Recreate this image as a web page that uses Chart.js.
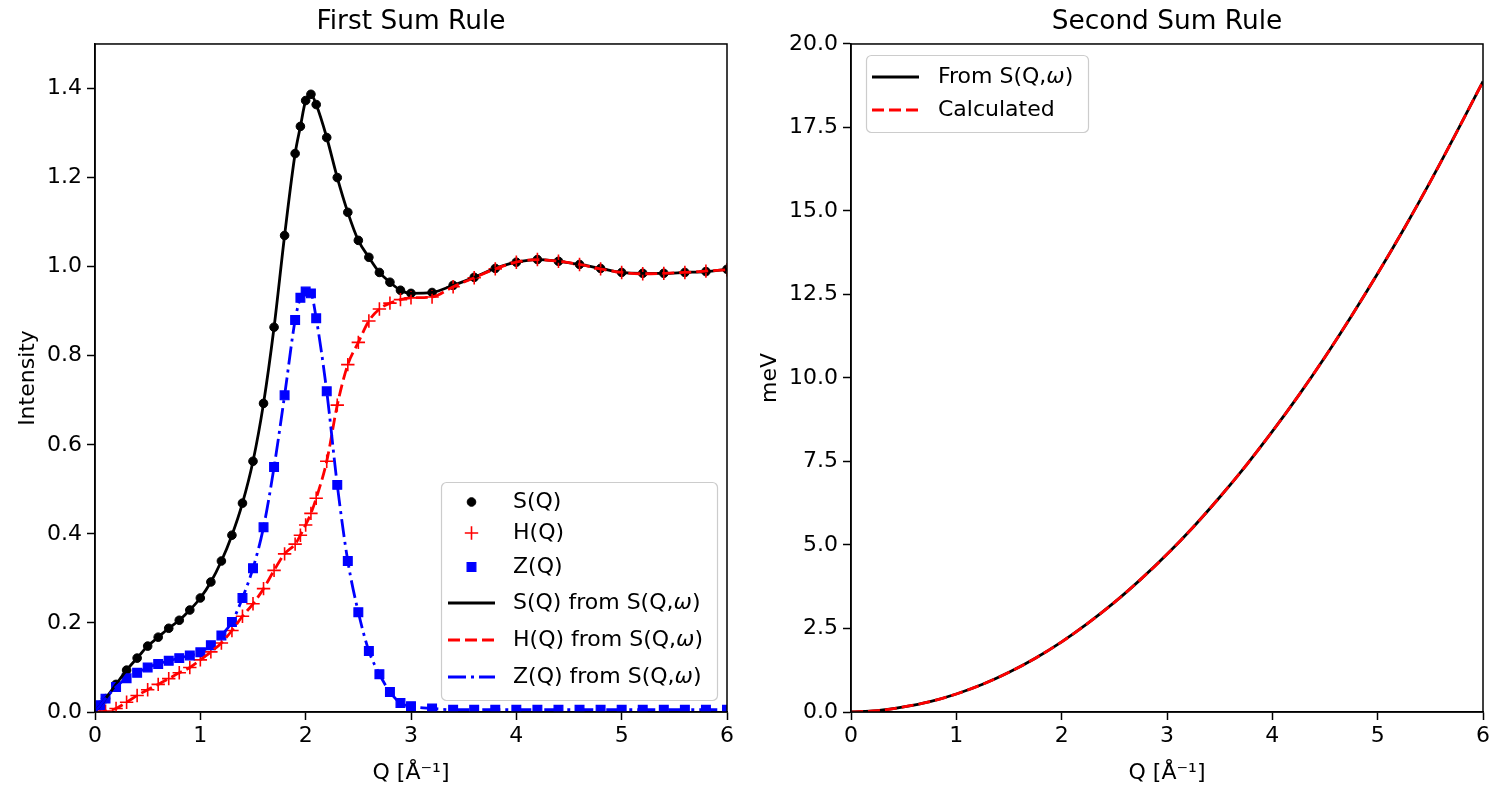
<!DOCTYPE html>
<html><head><meta charset="utf-8">
<script src="https://cdn.jsdelivr.net/npm/chart.js@4.4.1/dist/chart.umd.min.js"></script>
<style>
html,body{margin:0;padding:0;background:#fff;width:1494px;height:792px;overflow:hidden;}
#c1{position:absolute;left:0;top:0;width:747px;height:792px;}
#c2{position:absolute;left:756px;top:0;width:738px;height:792px;}
</style></head><body>
<canvas id="c1" width="747" height="792"></canvas>
<canvas id="c2" width="738" height="792"></canvas>
<script>
// ---- First sum rule data ----
const qValues = [0, 0.05, 0.1, 0.2, 0.3, 0.4, 0.5, 0.6, 0.7, 0.8, 0.9, 1.0, 1.1, 1.2, 1.3, 1.4, 1.5, 1.6, 1.7, 1.8, 1.9,
  1.95, 2.0, 2.05, 2.1, 2.2, 2.3, 2.4, 2.5, 2.6, 2.7, 2.8, 2.9, 3.0,
  3.2, 3.4, 3.6, 3.8, 4.0, 4.2, 4.4, 4.6, 4.8, 5.0, 5.2, 5.4, 5.6, 5.8, 6.0];
const sValues = [0, 0.015, 0.03, 0.062, 0.094, 0.121, 0.148, 0.168, 0.188, 0.206, 0.229, 0.256, 0.292, 0.339, 0.397, 0.469, 0.563, 0.693, 0.864, 1.070, 1.254,
  1.315, 1.373, 1.387, 1.364, 1.290, 1.200, 1.122, 1.059, 1.021, 0.987, 0.965, 0.947, 0.940,
  0.942, 0.958, 0.976, 0.996, 1.010, 1.016, 1.012, 1.005, 0.996, 0.987, 0.985, 0.985, 0.987, 0.989, 0.994];
const hValues = [0, 0, 0.002, 0.008, 0.022, 0.037, 0.050, 0.062, 0.075, 0.088, 0.100, 0.117, 0.135, 0.155, 0.183, 0.215, 0.243, 0.277, 0.318, 0.355, 0.377,
  0.397, 0.420, 0.446, 0.480, 0.563, 0.689, 0.780, 0.830, 0.878, 0.905, 0.918, 0.926, 0.930,
  0.932, 0.955, 0.975, 0.995, 1.010, 1.016, 1.012, 1.005, 0.995, 0.987, 0.984, 0.985, 0.987, 0.990, 0.993];
const zValues = [0, 0.015, 0.03, 0.056, 0.076, 0.088, 0.100, 0.108, 0.115, 0.121, 0.127, 0.134, 0.150, 0.172, 0.202, 0.256, 0.323, 0.415, 0.550, 0.711, 0.880,
  0.930, 0.944, 0.940, 0.884, 0.720, 0.510, 0.339, 0.224, 0.137, 0.085, 0.045, 0.020, 0.013,
  0.008, 0.005, 0.005, 0.005, 0.005, 0.005, 0.005, 0.005, 0.005, 0.005, 0.005, 0.005, 0.005, 0.005, 0.005];

// ---- Second sum rule data ----
const qSecond = [0, 0.25, 0.5, 0.75, 1.0, 1.25, 1.5, 1.75, 2.0, 2.25, 2.5, 2.75, 3.0, 3.25, 3.5, 3.75, 4.0, 4.25, 4.5, 4.75, 5.0, 5.25, 5.5, 5.75, 6.0];
const secondFromSQW = [0, 0.04, 0.15, 0.31, 0.54, 0.83, 1.19, 1.61, 2.10, 2.66, 3.28, 3.97, 4.72, 5.54, 6.43, 7.38, 8.40, 9.48, 10.63, 11.85, 13.13, 14.47, 15.88, 17.36, 18.88];
const secondCalculated = [0, 0.04, 0.15, 0.31, 0.54, 0.83, 1.19, 1.61, 2.10, 2.66, 3.28, 3.97, 4.72, 5.54, 6.43, 7.38, 8.40, 9.48, 10.63, 11.85, 13.13, 14.47, 15.88, 17.36, 18.88];

const FONT = 'DejaVu Sans';
const FS = 22;       // tick / label / legend font size
const TFS = 26.4;    // title font size
Chart.defaults.font.family = FONT;
Chart.defaults.font.size = FS;
Chart.defaults.color = '#000';

function pts(xs, ys, from) { return xs.map((x, i) => ({x, y: ys[i]})).slice(from || 0); }

const frame = {
  id: 'frame',
  afterDatasetsDraw(chart) {
    const {ctx, chartArea: a} = chart;
    ctx.save(); ctx.strokeStyle = '#000'; ctx.lineWidth = 1.5;
    ctx.strokeRect(a.left, a.top, a.right - a.left, a.bottom - a.top);
    ctx.restore();
  }
};

function drawParts(ctx, parts, x, y) {
  ctx.textBaseline = 'middle'; ctx.textAlign = 'left'; ctx.fillStyle = '#000';
  for (const [t, st] of parts) {
    ctx.font = (st === 'i' ? 'italic ' : '') + FS + 'px "' + FONT + '"';
    ctx.fillText(t, x, y);
    x += ctx.measureText(t).width;
  }
}

function drawMarker(ctx, ds, x, y) {
  ctx.save();
  ctx.fillStyle = ds.pointBackgroundColor; ctx.strokeStyle = ds.pointBorderColor; ctx.lineWidth = ds.pointBorderWidth;
  const r = ds.pointRadius;
  ctx.beginPath();
  if (ds.pointStyle === 'circle') { ctx.arc(x, y, r, 0, Math.PI * 2); ctx.fill(); ctx.stroke(); }
  else if (ds.pointStyle === 'rect') { const s = r * Math.SQRT1_2; ctx.rect(x - s, y - s, 2 * s, 2 * s); ctx.fill(); ctx.stroke(); }
  else { ctx.moveTo(x - r, y); ctx.lineTo(x + r, y); ctx.moveTo(x, y - r); ctx.lineTo(x, y + r); ctx.stroke(); }
  ctx.restore();
}

function makeLegend(id, boxFn, entries) {
  return {
    id,
    afterDraw(chart) {
      const ctx = chart.ctx; const b = boxFn(chart.chartArea);
      ctx.save();
      ctx.beginPath();
      if (ctx.roundRect) ctx.roundRect(b.x + 0.5, b.y + 0.5, b.w, b.h, 5); else ctx.rect(b.x + 0.5, b.y + 0.5, b.w, b.h);
      ctx.fillStyle = 'rgba(255,255,255,0.8)'; ctx.fill();
      ctx.strokeStyle = '#cccccc'; ctx.lineWidth = 1.2; ctx.stroke();
      for (const e of entries) {
        const ds = chart.data.datasets[e.ds];
        const y = b.y + e.dy;
        if (e.kind === 'marker') {
          drawMarker(ctx, ds, b.x + b.hx0 + (b.hx1 - b.hx0) / 2, y);
        } else {
          ctx.save(); ctx.strokeStyle = ds.borderColor; ctx.lineWidth = ds.borderWidth;
          ctx.setLineDash(ds.borderDash || []);
          ctx.beginPath(); ctx.moveTo(b.x + b.hx0, y); ctx.lineTo(b.x + b.hx1, y); ctx.stroke();
          ctx.restore();
        }
        drawParts(ctx, e.parts, b.x + b.tx, y);
      }
      ctx.restore();
    }
  };
}

function yAxis(title, titlePad, min, max, step) {
  return {
    type: 'linear', min, max,
    afterFit(s) { s.width = 95; },
    ticks: { stepSize: step, includeBounds: false, padding: 5, color: '#000', font: {size: FS}, callback: v => Number(v).toFixed(1) },
    grid: { display: true, drawOnChartArea: false, drawTicks: true, tickLength: 8, tickWidth: 1.5, tickColor: '#000', color: '#000' },
    border: { display: true, color: '#000', width: 1.5 },
    title: { display: true, text: title, color: '#000', font: {size: FS}, padding: {top: titlePad, bottom: 0} }
  };
}
function xAxis() {
  return {
    type: 'linear', min: 0, max: 6,
    afterFit(s) { s.height = 80; },
    ticks: { stepSize: 1, includeBounds: false, padding: 3, color: '#000', font: {size: FS}, maxRotation: 0, callback: v => String(v) },
    grid: { display: true, drawOnChartArea: false, drawTicks: true, tickLength: 8, tickWidth: 1.5, tickColor: '#000', color: '#000' },
    border: { display: true, color: '#000', width: 1.5 },
    title: { display: true, text: 'Q [Å⁻¹]', color: '#000', font: {size: FS}, padding: {top: 0, bottom: 6} }
  };
}
function titleOpt(text) {
  return { display: true, text, fullSize: false, color: '#000', font: {size: TFS, weight: 'normal'}, padding: {top: 6, bottom: 6.3} };
}

const omegaParts = (pre) => [[pre + 'S(Q,', 'n'], ['ω', 'i'], [')', 'n']];

const legend1 = makeLegend('legend1',
  a => ({x: a.right - 286, y: a.bottom - 230, w: 276, h: 218, hx0: 7, hx1: 54, tx: 72}),
  [
    {kind: 'marker', ds: 0, dy: 20, parts: [['S(Q)', 'n']]},
    {kind: 'marker', ds: 1, dy: 51, parts: [['H(Q)', 'n']]},
    {kind: 'marker', ds: 2, dy: 85, parts: [['Z(Q)', 'n']]},
    {kind: 'line', ds: 3, dy: 121, parts: omegaParts('S(Q) from ')},
    {kind: 'line', ds: 4, dy: 158, parts: omegaParts('H(Q) from ')},
    {kind: 'line', ds: 5, dy: 195, parts: omegaParts('Z(Q) from ')}
  ]);

const DASH = [12, 5];
const DASHDOT = [18, 5, 3, 5];

new Chart(document.getElementById('c1'), {
  type: 'line',
  data: {
    datasets: [
      {label: 'S(Q)', data: pts(qValues, sValues, 1), showLine: false, pointStyle: 'circle', pointRadius: 4.3, pointBackgroundColor: '#000', pointBorderColor: '#000', pointBorderWidth: 1, order: 6},
      {label: 'H(Q)', data: pts(qValues, hValues, 1), showLine: false, pointStyle: 'cross', pointRadius: 6.7, pointBackgroundColor: '#ff0000', pointBorderColor: '#ff0000', pointBorderWidth: 1.6, order: 5},
      {label: 'Z(Q)', data: pts(qValues, zValues, 1), showLine: false, pointStyle: 'rect', pointRadius: 6.2, pointBackgroundColor: '#0000ff', pointBorderColor: '#0000ff', pointBorderWidth: 1.2, order: 4},
      {label: 'S(Q) from S(Q,ω)', data: pts(qValues, sValues), borderColor: '#000', borderWidth: 2.8, pointRadius: 0, cubicInterpolationMode: 'monotone', order: 3},
      {label: 'H(Q) from S(Q,ω)', data: pts(qValues, hValues), borderColor: '#ff0000', borderWidth: 2.8, borderDash: DASH, pointRadius: 0, cubicInterpolationMode: 'monotone', order: 2},
      {label: 'Z(Q) from S(Q,ω)', data: pts(qValues, zValues), borderColor: '#0000ff', borderWidth: 2.8, borderDash: DASHDOT, pointRadius: 0, cubicInterpolationMode: 'monotone', order: 1}
    ]
  },
  options: {
    responsive: false, animation: false,
    layout: {padding: {left: 0, right: 20, top: 0, bottom: 0}},
    plugins: {legend: {display: false}, tooltip: {enabled: false}, title: titleOpt('First Sum Rule')},
    scales: {x: xAxis(), y: yAxis('Intensity', 15, 0, 1.5, 0.2)}
  },
  plugins: [frame, legend1]
});

const legend2 = makeLegend('legend2',
  a => ({x: a.left + 15, y: a.top + 11, w: 222, h: 77, hx0: 6, hx1: 53, tx: 72}),
  [
    {kind: 'line', ds: 0, dy: 22, parts: [['From S(Q,', 'n'], ['ω', 'i'], [')', 'n']]},
    {kind: 'line', ds: 1, dy: 55, parts: [['Calculated', 'n']]}
  ]);

new Chart(document.getElementById('c2'), {
  type: 'line',
  data: {
    datasets: [
      {label: 'From S(Q,ω)', data: pts(qSecond, secondFromSQW), borderColor: '#000', borderWidth: 2.8, pointRadius: 0, cubicInterpolationMode: 'monotone', order: 2},
      {label: 'Calculated', data: pts(qSecond, secondCalculated), borderColor: '#ff0000', borderWidth: 2.8, borderDash: DASH, pointRadius: 0, cubicInterpolationMode: 'monotone', order: 1}
    ]
  },
  options: {
    responsive: false, animation: false,
    layout: {padding: {left: 0, right: 11, top: 0, bottom: 0}},
    plugins: {legend: {display: false}, tooltip: {enabled: false}, title: titleOpt('Second Sum Rule')},
    scales: {x: xAxis(), y: yAxis('meV', 1, 0, 20, 2.5)}
  },
  plugins: [frame, legend2]
});
</script>
</body></html>
